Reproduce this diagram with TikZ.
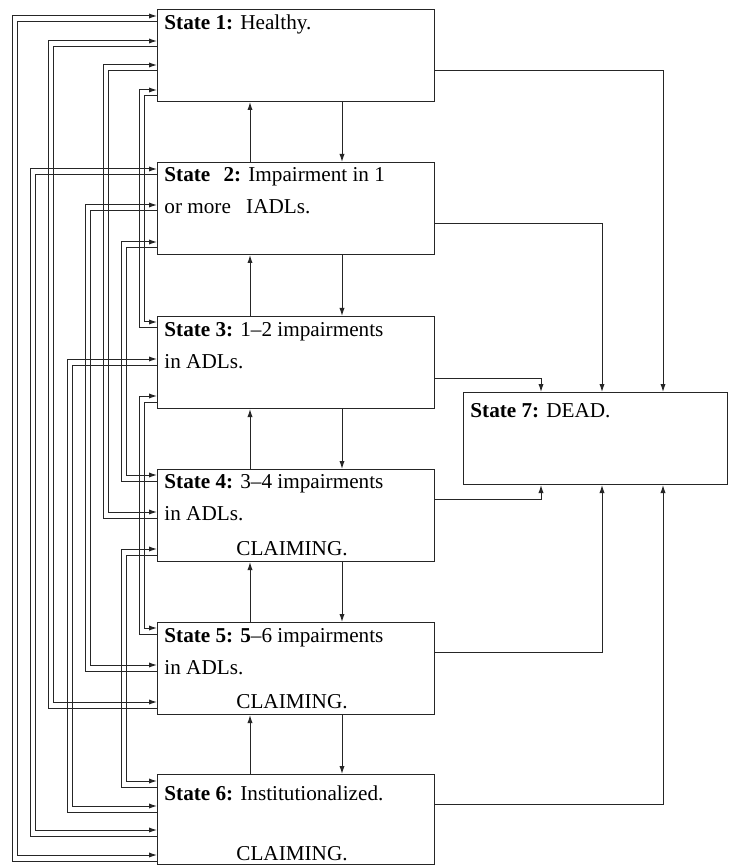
\documentclass[tikz,border=0pt]{standalone}
\usepackage{fontspec}
\setmainfont{Liberation Serif}
\usetikzlibrary{calc,arrows.meta}

\begin{document}
\begin{tikzpicture}[x=0.5pt, y=-0.5pt,
    statebox/.style={draw=black!85, line width=0.5pt, minimum width=138.5pt,
      minimum height=46pt, inner sep=0pt, anchor=north west},
    txt/.style={anchor=base west, inner sep=0pt, font=\fontsize{10.6}{12}\selectfont},
    claim/.style={anchor=base, inner sep=0pt, font=\fontsize{10.6}{12}\selectfont},
    arrow/.style={-{Latex[length=4pt,width=2.6pt]}, draw=black!85, line width=0.5pt}
  ]
    \useasboundingbox (0,0) rectangle (728,865);
    % state boxes
    \node[statebox] (S1) at (157,9) {};
    \node[statebox] (S2) at (157,162) {};
    \node[statebox] (S3) at (157,316) {};
    \node[statebox] (S4) at (157,469) {};
    \node[statebox] (S5) at (157,622) {};
    \node[statebox, minimum height=45pt] (S6) at (157,774) {};
    \node[statebox, minimum width=132pt] (S7) at (463,392) {};
    % texts
    \node[txt] (T1) at (164,30) {\textbf{State 1:} Healthy.};
    \node[txt] (T2a) at (164,182) {\textbf{State\hspace{4pt} 2:} Impairment in 1};
    \node[txt] (T2b) at (164,214) {or more\hspace{5pt} IADLs.};
    \node[txt] (T3a) at (164,336) {\textbf{State 3:} 1--2 impairments};
    \node[txt] (T3b) at (164,368) {in ADLs.};
    \node[txt] (T4a) at (164,488) {\textbf{State 4:} 3--4 impairments};
    \node[txt] (T4b) at (164,520) {in ADLs.};
    \node[claim] (T4c) at (292,555) {CLAIMING.};
    \node[txt] (T5a) at (164,642) {\textbf{State 5: 5}--6 impairments};
    \node[txt] (T5b) at (164,674) {in ADLs.};
    \node[claim] (T5c) at (292,708) {CLAIMING.};
    \node[txt] (T6a) at (164,800) {\textbf{State 6:} Institutionalized.};
    \node[claim] (T6c) at (292,860) {CLAIMING.};
    \node[txt] (T7) at (470,417) {\textbf{State 7:} DEAD.};
    % neighbouring states
    \foreach \k/\n in {1/2,2/3,3/4,4/5,5/6}{
      \draw[arrow] ($(S\n.north)+(-46,0)$) -- ($(S\k.south)+(-46,0)$);
      \draw[arrow] ($(S\k.south)+(46,0)$) -- ($(S\n.north)+(46,0)$);
    }
    % jumps on the left: i/j/slot at i/slot at j/x
    \foreach \i/\j/\a/\b/\x in {1/6/7/81/12, 2/6/7/56/30, 1/5/32/80/48,
        3/6/43/32/67, 2/5/43/43/85, 1/4/56/43/103, 2/4/80/6/121,
        4/6/80/7/121, 1/3/81/6/139, 3/5/80/6/139}{
      \draw[arrow] ($(S\j.north west)+(0,\b+6)$) -- ++(\x-157,0)
        |- ($(S\i.north west)+(0,\a)$);
      \draw[arrow] ($(S\i.north west)+(0,\a+6)$) -- ++(\x-151.5,0)
        |- ($(S\j.north west)+(0,\b)$);
    }
    % death
    \foreach \k/\d in {1/200,2/139,3/78}
      \draw[arrow] ($(S\k.north east)+(0,62)$) -| ($(S7.north west)+(\d,0)$);
    \foreach \k/\d in {4/78,5/139,6/200}
      \draw[arrow] ($(S\k.north east)+(0,30)$) -| ($(S7.south west)+(\d,0)$);
  \end{tikzpicture}
\end{document}
